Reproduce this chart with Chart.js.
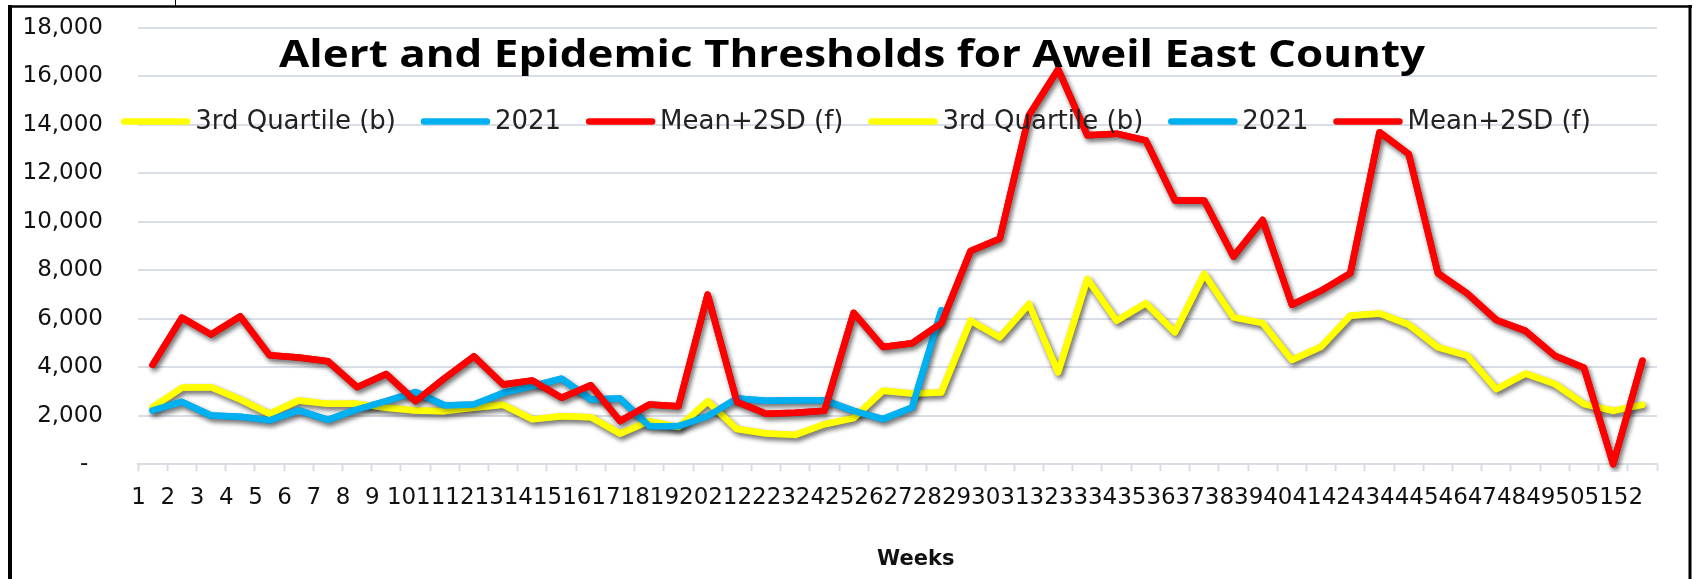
<!DOCTYPE html>
<html>
<head>
<meta charset="utf-8">
<title>Alert and Epidemic Thresholds for Aweil East County</title>
<script src="https://cdn.jsdelivr.net/npm/chart.js@4.4.1/dist/chart.umd.min.js"></script>
<style>
  html, body { margin: 0; padding: 0; background: #fff; }
  #wrap { position: relative; width: 1696px; height: 579px; }
</style>
</head>
<body>
<div id="wrap"><canvas id="chart" width="1696" height="579"></canvas></div>
<script>
// Weekly thresholds
const weeks = ['1', '2', '3', '4', '5', '6', '7', '8', '9', '10',
  '11', '12', '13', '14', '15', '16', '17', '18', '19', '20',
  '21', '22', '23', '24', '25', '26', '27', '28', '29', '30',
  '31', '32', '33', '34', '35', '36', '37', '38', '39', '40',
  '41', '42', '43', '44', '45', '46', '47', '48', '49', '50',
  '51', '52'];

const quartile3 = [2350, 3150, 3180, 2670, 2080, 2630, 2490, 2490, 2330, 2220,
  2190, 2330, 2450, 1850, 1980, 1940, 1260, 1780, 1530, 2590,
  1450, 1270, 1210, 1650, 1900, 3030, 2920, 2960, 5920, 5230,
  6610, 3790, 7640, 5920, 6640, 5440, 7850, 6060, 5820, 4300,
  4850, 6130, 6220, 5760, 4820, 4480, 3100, 3740, 3310, 2480,
  2200, 2450];

// 2021 only runs to week 28
const year2021 = [2220, 2570, 2010, 1960, 1810, 2220, 1830, 2260, 2600, 2980,
  2420, 2460, 2940, 3220, 3530, 2670, 2710, 1570, 1570, 1980,
  2710, 2620, 2640, 2640, 2200, 1860, 2340, 6350];

const mean2sd = [4100, 6050, 5350, 6100, 4500, 4400, 4250, 3180, 3720, 2600,
  3550, 4450, 3290, 3450, 2740, 3260, 1780, 2460, 2390, 7000,
  2580, 2080, 2120, 2210, 6250, 4840, 4990, 5820, 8800, 9300,
  14400, 16300, 13570, 13640, 13360, 10880, 10880, 8570, 10080, 6580,
  7160, 7880, 13700, 12800, 7880, 7050, 5950, 5500, 4480, 3980,
  0, 4270];

const seriesNames = ['3rd Quartile (b)', '2021', 'Mean+2SD (f)'];
const seriesColors = ['#FFFF00', '#00B0F0', '#FF0000'];
const chartTitle = 'Alert and Epidemic Thresholds for Aweil East County';
const xTitle = 'Weeks';

const gridColor = '#D9DDE5';

function lineSet(i, data, order) {
  return {
    label: seriesNames[i],
    data: data,
    borderColor: seriesColors[i],
    backgroundColor: seriesColors[i],
    borderWidth: 6.5,
    borderJoinStyle: 'round',
    borderCapStyle: 'round',
    pointRadius: 0,
    pointHoverRadius: 0,
    tension: 0,
    clip: 8,
    order: order
  };
}

// the source sheet has every series twice, so the legend lists six entries
const datasets = [
  lineSet(0, quartile3, 5),
  lineSet(1, year2021, 4),
  lineSet(2, mean2sd, 3),
  lineSet(0, quartile3, 2),
  lineSet(1, year2021, 1),
  lineSet(2, mean2sd, 0)
];

// title + legend sit inside the plot, excel style, so draw them by hand
const overlay = {
  id: 'overlay',
  beforeDraw(chart) {
    const ctx = chart.ctx;
    ctx.save();
    ctx.fillStyle = '#fff';
    ctx.fillRect(0, 0, chart.width, chart.height);
    ctx.restore();
  },
  beforeDatasetDraw(chart) {
    const ctx = chart.ctx;
    ctx.save();
    ctx.shadowColor = 'rgba(0,0,0,0.35)';
    ctx.shadowBlur = 5;
    ctx.shadowOffsetX = 2;
    ctx.shadowOffsetY = 3;
  },
  afterDatasetDraw(chart) {
    chart.ctx.restore();
  },
  afterDatasetsDraw(chart) {
    const ctx = chart.ctx;

    // title, squeezed to the width it has in the original
    ctx.save();
    ctx.font = 'bold 38px "Open Sans"';
    const tw = ctx.measureText(chartTitle).width;
    ctx.translate(852, 67);
    ctx.scale(1146 / tw, 1);
    ctx.fillStyle = '#000';
    ctx.textAlign = 'center';
    ctx.textBaseline = 'alphabetic';
    ctx.fillText(chartTitle, 0, 0);
    ctx.restore();

    // legend row
    ctx.save();
    ctx.font = '26px "DejaVu Sans"';
    const symW = 69, gap = 5, itemGap = 25, legendY = 121.5;
    const items = chart.data.datasets.map(d => ({
      text: d.label, color: d.borderColor, w: ctx.measureText(d.label).width
    }));
    let total = 0;
    items.forEach(it => { total += symW + gap + it.w; });
    total += itemGap * (items.length - 1);
    let x = 856 - total / 2;
    ctx.textBaseline = 'middle';
    ctx.textAlign = 'left';
    items.forEach(it => {
      ctx.strokeStyle = it.color;
      ctx.lineWidth = 6.5;
      ctx.lineCap = 'round';
      ctx.beginPath();
      ctx.moveTo(x + 3, legendY);
      ctx.lineTo(x + symW - 3, legendY);
      ctx.stroke();
      ctx.fillStyle = '#222';
      ctx.fillText(it.text, x + symW + gap, legendY + 1);
      x += symW + gap + it.w + itemGap;
    });
    ctx.restore();
  },
  afterDraw(chart) {
    // black frame round the picture
    const ctx = chart.ctx;
    ctx.save();
    ctx.strokeStyle = '#000';
    ctx.lineWidth = 4;
    ctx.beginPath();
    ctx.moveTo(10, 5);
    ctx.lineTo(10, chart.height);
    ctx.stroke();
    ctx.lineWidth = 2.5;
    ctx.beginPath();
    ctx.moveTo(8, 6.5);
    ctx.lineTo(1692, 6.5);
    ctx.stroke();
    ctx.lineWidth = 3;
    ctx.beginPath();
    ctx.moveTo(1690, 5);
    ctx.lineTo(1690, chart.height);
    ctx.stroke();
    ctx.lineWidth = 1;
    ctx.beginPath();
    ctx.moveTo(175.5, 0);
    ctx.lineTo(175.5, 6);
    ctx.stroke();
    ctx.restore();
  }
};

new Chart(document.getElementById('chart'), {
  type: 'line',
  data: {
    labels: weeks,
    datasets: datasets
  },
  options: {
    responsive: false,
    devicePixelRatio: 1,
    animation: false,
    layout: {
      padding: { left: 0, right: 39, top: 28, bottom: 7 }
    },
    plugins: {
      legend: { display: false },
      title: { display: false },
      tooltip: { enabled: false }
    },
    scales: {
      x: {
        offset: true,
        afterFit(scale) { scale.paddingLeft = 0; scale.paddingRight = 0; },
        grid: {
          offset: true,
          drawOnChartArea: false,
          drawTicks: true,
          tickLength: 7,
          tickColor: gridColor,
          tickWidth: 2
        },
        border: { display: true, color: gridColor, width: 2 },
        ticks: {
          autoSkip: false,
          maxRotation: 0,
          minRotation: 0,
          padding: 13,
          labelOffset: -14,
          color: '#111',
          font: { family: 'DejaVu Sans', size: 23 }
        },
        title: {
          display: true,
          text: '     ' + xTitle,
          color: '#111',
          font: { family: 'DejaVu Sans', size: 21, weight: 'bold' },
          padding: { top: 22, bottom: 0 }
        }
      },
      y: {
        min: 0,
        max: 18000,
        afterFit(scale) {
          scale.width = 138;
          scale.paddingTop = 0;
          scale.paddingBottom = 0;
        },
        grid: {
          color: gridColor,
          lineWidth: 2,
          drawTicks: false
        },
        border: { display: false },
        ticks: {
          stepSize: 2000,
          padding: 35,
          color: '#111',
          font: { family: 'DejaVu Sans', size: 23 },
          callback: v => v === 0 ? '-  ' : v.toLocaleString('en-US')
        }
      }
    }
  },
  plugins: [overlay]
});
</script>
</body>
</html>
